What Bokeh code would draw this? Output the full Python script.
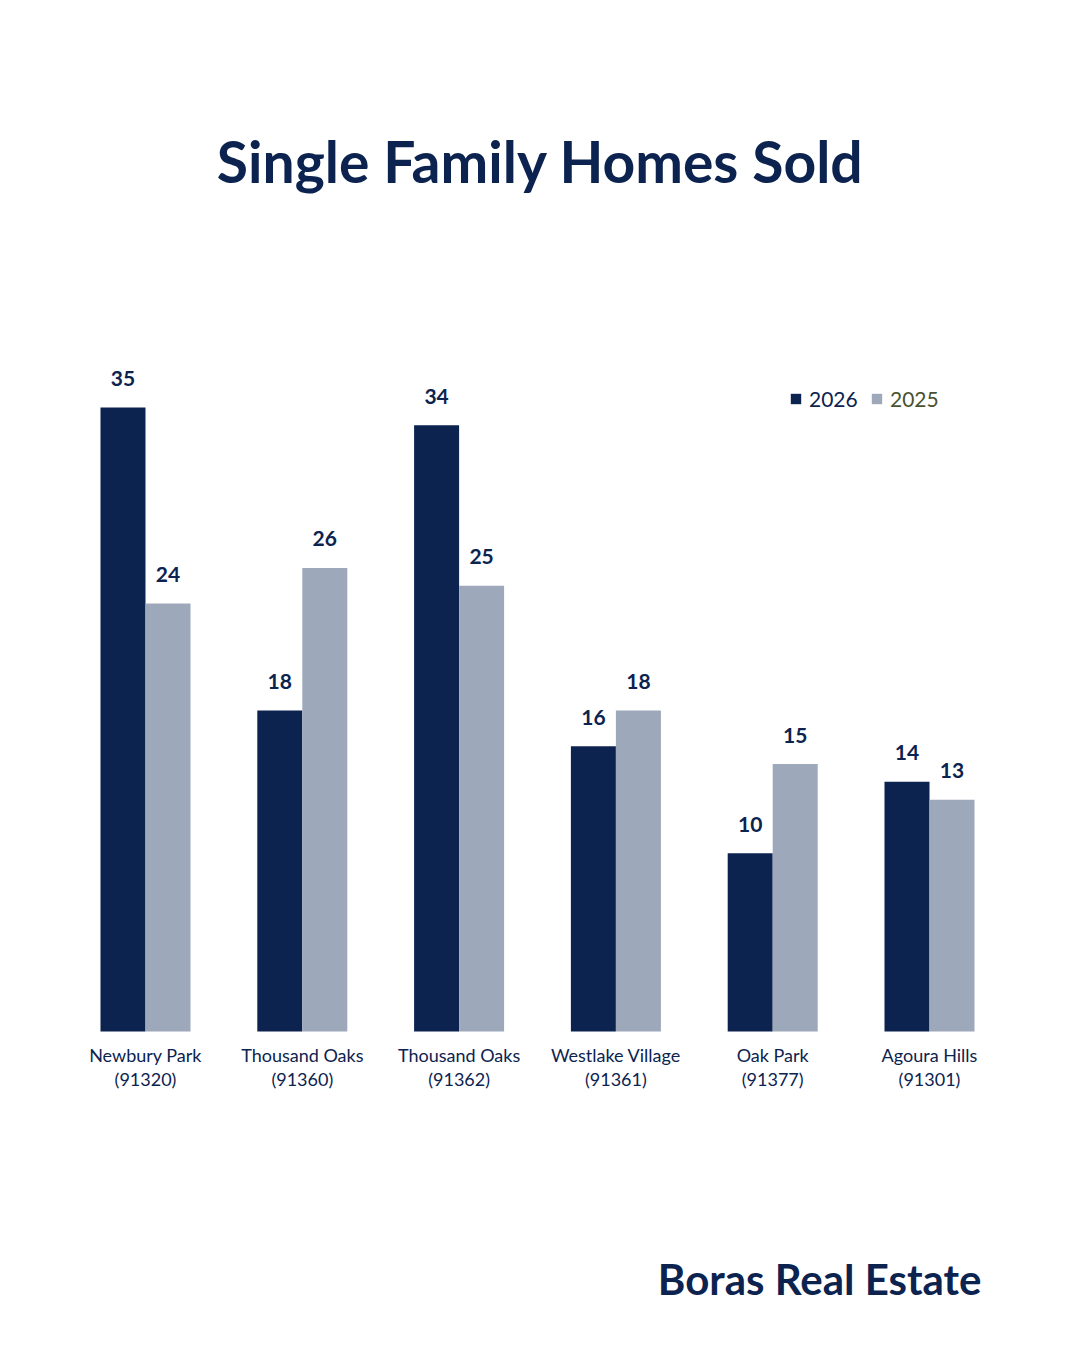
from bokeh.plotting import figure
from bokeh.models import Range1d, Label, Legend, LegendItem, ColumnDataSource
from bokeh.core.properties import value
from bokeh.embed import file_html
from bokeh.resources import INLINE

# Data
areas = ["Newbury Park", "Thousand Oaks", "Thousand Oaks", "Westlake Village", "Oak Park", "Agoura Hills"]
zips = ["(91320)", "(91360)", "(91362)", "(91361)", "(91377)", "(91301)"]
sold_2026 = [35, 18, 34, 16, 10, 14]
sold_2025 = [24, 26, 25, 18, 15, 13]
years = ["2026", "2025"]

NAVY = "#0c2350"
GREY = "#9da8ba"
OLIVE = "#4a5230"
FONT = "Lato"

W, H = 1080, 1350
idx = list(range(len(areas)))
half = 0.1435
bar_w = 0.287

p = figure(width=W, height=H, output_backend="svg", toolbar_location=None,
           x_range=Range1d(-0.9247, 5.963), y_range=Range1d(-17.89, 57.82),
           min_border=0, outline_line_color=None, background_fill_color="white",
           border_fill_color="white")
p.axis.visible = False
p.grid.visible = False

src26 = ColumnDataSource(dict(x=[i - half for i in idx], top=sold_2026,
                              lab=[str(v) for v in sold_2026]))
src25 = ColumnDataSource(dict(x=[i + half for i in idx], top=sold_2025,
                              lab=[str(v) for v in sold_2025]))
cat = ColumnDataSource(dict(x=idx, y=[0] * len(idx), area=areas, zip=zips))

r26 = p.vbar(x="x", top="top", bottom=0, width=bar_w, source=src26,
             fill_color=NAVY, line_color=None)
r25 = p.vbar(x="x", top="top", bottom=0, width=bar_w, source=src25,
             fill_color=GREY, line_color=None)

# value labels above bars
for s in (src26, src25):
    p.text(x="x", y="top", text="lab", source=s, text_align="center",
           text_baseline="middle", y_offset=-29, text_font=value(FONT),
           text_font_style="bold", text_font_size="21px", text_color=NAVY)

# category labels under the baseline
p.text(x="x", y="y", text="area", source=cat, text_align="center",
       text_baseline="middle", y_offset=24, text_font=value(FONT),
       text_font_size="18px", text_color=NAVY)
p.text(x="x", y="y", text="zip", source=cat, text_align="center",
       text_baseline="middle", y_offset=48, text_font=value(FONT),
       text_font_size="18px", text_color=NAVY)

# legend: one block per year so each label keeps its own colour
for r, lab, col, xloc in ((r26, years[0], NAVY, 789), (r25, years[1], OLIVE, 870)):
    lg = Legend(items=[LegendItem(label=lab, renderers=[r])], location=(xloc, 939),
                glyph_width=13, glyph_height=13, label_standoff=7, padding=0, margin=0,
                spacing=0, label_height=22, border_line_color=None,
                background_fill_alpha=0, label_text_font=FONT,
                label_text_font_size="21px", label_text_color=col)
    p.add_layout(lg, "center")

p.add_layout(Label(x=540, y=H - 160, x_units="screen", y_units="screen",
                   text="Single Family Homes Sold", text_align="center",
                   text_baseline="middle", text_font=FONT, text_font_style="bold",
                   text_font_size="57px", text_color=NAVY))
p.add_layout(Label(x=981, y=H - 1278, x_units="screen", y_units="screen",
                   text="Boras Real Estate", text_align="right",
                   text_baseline="middle", text_font=FONT, text_font_style="bold",
                   text_font_size="42px", text_color=NAVY))

open("out.html", "w").write(file_html(p, INLINE))
